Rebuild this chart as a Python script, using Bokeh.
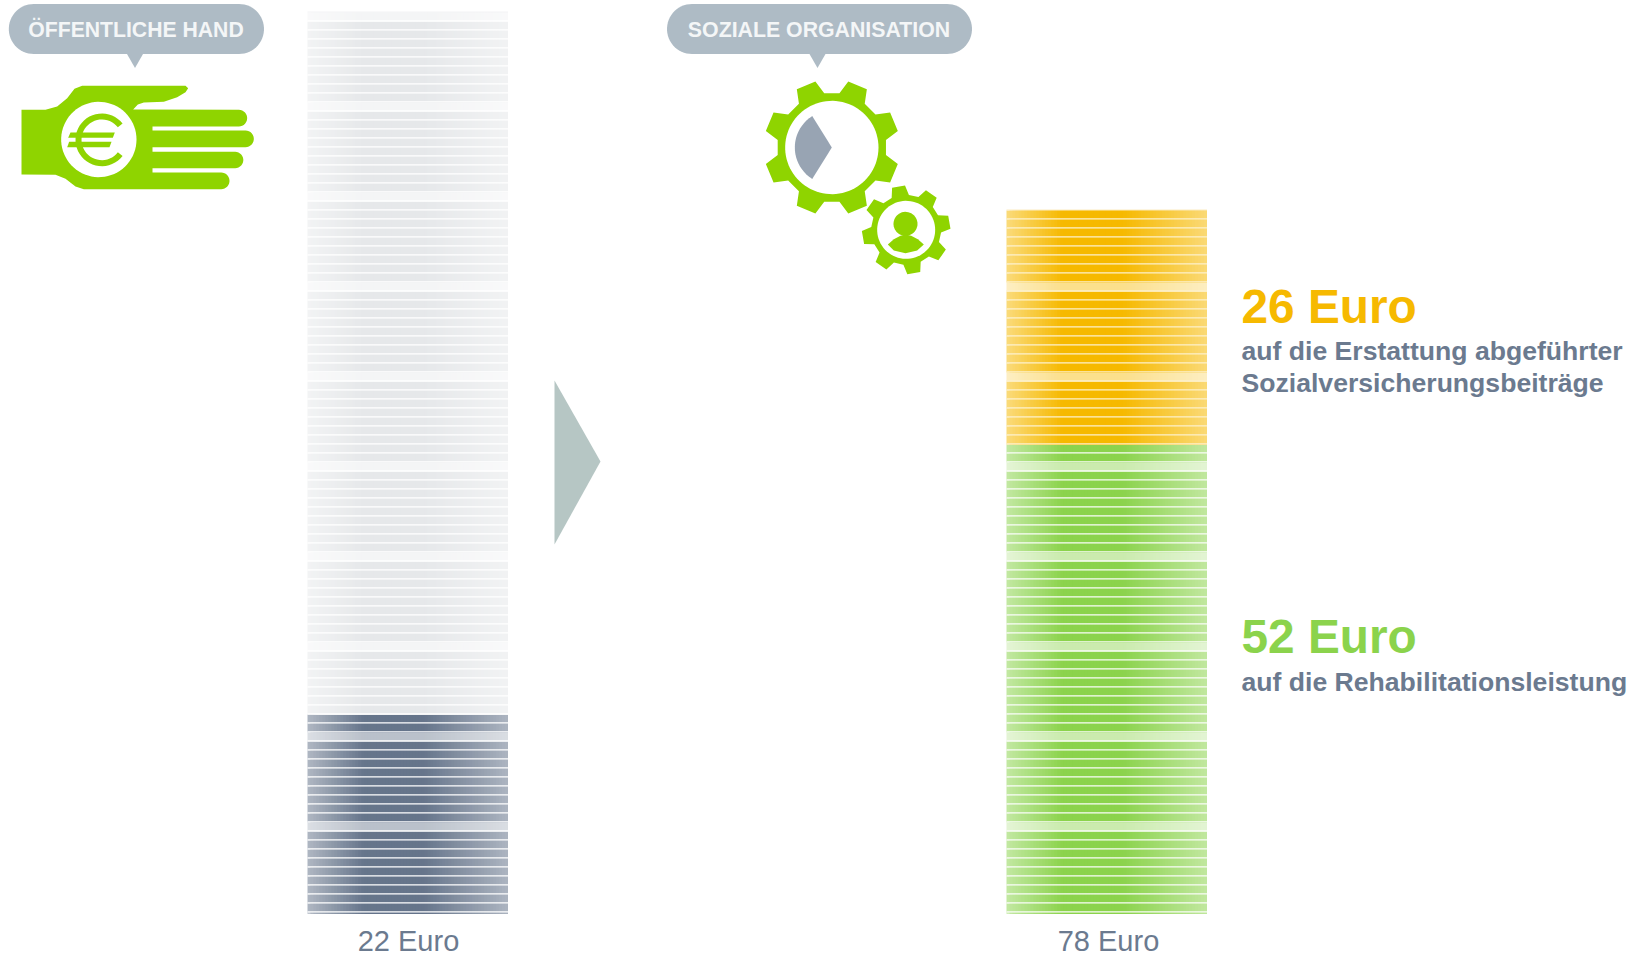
from bokeh.embed import file_html
from bokeh.resources import INLINE
from bokeh.plotting import figure
from bokeh.models import Range1d
from bokeh.core.properties import value
import numpy as np

# Distribution of 100 Euro: public share, organisation share and its two uses
public_euro = 22
organisation_euro = 78
contribution_euro = 26
rehabilitation_euro = 52
total_euro = public_euro + organisation_euro

GREY = "#66758b"
ORANGE = "#f6b900"
GREEN = "#8bd34c"
GHOST = "#e6e8ea"
LIME = "#8fd400"
BUBBLE = "#aebbc5"
TEXT = "#6b7a8f"

W, H = 1639, 953
BASE_PX = 912          # pixel row of the zero line
PITCH = 9              # pixels per Euro
BAR_W = 200.5
LEFT_X, RIGHT_X = 307, 1006
MIDDLE_SHIFT = 0.34    # from a text's baseline up to its vertical middle, per font size

p = figure(width=W, height=H, output_backend="svg", toolbar_location=None,
           x_range=Range1d(0, W),
           y_range=Range1d(-(H - BASE_PX) / PITCH, BASE_PX / PITCH),
           min_border=0, outline_line_color=None)
p.extra_y_ranges = {"px": Range1d(H, 0)}
p.axis.visible = False
p.grid.visible = False
p.background_fill_color = "white"
p.border_fill_color = "white"


def shade(u):
    """Opacity across a coin, strongest left of the middle."""
    return np.interp(u, [0, 0.28, 0.58, 1], [0.52, 1, 1, 0.54])


def hexrgb(c):
    return np.array([int(c[i:i + 2], 16) for i in (1, 3, 5)], float)


def tohex(v):
    return "#%02x%02x%02x" % tuple(int(round(q)) for q in v)


def stack(x0, start, count, color, gap_tint=0.0, foot=False):
    """One row per Euro: overlapping cells fade sideways, a thin strip parts the rows."""
    n = 67
    cw = BAR_W / n
    rgb = hexrgb(color)
    l, r, t, b, c = [], [], [], [], []
    rows = [(k, k + 1, 0.45 if (k % 10) == 9 else 1.0) for k in range(start, start + count)]
    if foot:
        rows.insert(0, (-1.3 / PITCH, 0, 1.0))
    for low, high, a in rows:
        for j in range(n):
            al = shade((j + 0.5) / n) * a
            l.append(x0 + j * cw); r.append(x0 + BAR_W)
            b.append(low); t.append(high)
            c.append(tohex(rgb + (255 - rgb) * (1 - al)))
    p.quad(left=l, right=r, bottom=b, top=t, fill_color=c, line_color=None)
    gap = 1.3 / PITCH
    xs = [[x0, x0 + BAR_W, x0 + BAR_W, x0] for _ in range(count)]
    ys = [[k, k, k + gap, k + gap] for k in range(start, start + count)]
    p.patches(xs, ys, fill_color=tohex(255 - (255 - rgb) * gap_tint), line_color=None)


stack(LEFT_X, 0, public_euro, GREY, foot=True)
stack(LEFT_X, public_euro, total_euro - public_euro, GHOST)
stack(RIGHT_X, 0, rehabilitation_euro, GREEN, 0.04, foot=True)
stack(RIGHT_X, rehabilitation_euro, contribution_euro, ORANGE, 0.2)

# Faint cap line on top of each column
p.quad(left=[LEFT_X, RIGHT_X], right=[LEFT_X + BAR_W, RIGHT_X + BAR_W],
       bottom=[total_euro, organisation_euro],
       top=[total_euro + 1 / PITCH, organisation_euro + 1 / PITCH],
       fill_color=["#f3f4f5", "#fcebc2"], line_color=None)


def patch(xs, ys, color):
    p.patch(list(xs), list(ys), fill_color=color, line_color=None, y_range_name="px")


def pill(x0, x1, y0, y1, tail_x, color):
    r = (y1 - y0) / 2
    a = np.linspace(np.pi / 2, 3 * np.pi / 2, 30)
    xs = np.r_[x0 + r + r * np.cos(a), x1 - r - r * np.cos(a)]
    ys = np.r_[(y0 + y1) / 2 - r * np.sin(a), (y0 + y1) / 2 + r * np.sin(a)]
    patch(xs, ys, color)
    patch([tail_x - 8, tail_x + 8, tail_x], [y1, y1, y1 + 14], color)


pill(8.3, 263.5, 3.5, 53.5, 134.5, BUBBLE)
pill(666.5, 971.5, 3.5, 53.5, 817, BUBBLE)


def label(x, y, s, size, color, bold=True, align="left"):
    p.text([x], [y - MIDDLE_SHIFT * size], text=[s], text_font=value("Liberation Sans"),
           text_font_size=f"{size}px", text_color=color,
           text_font_style="bold" if bold else "normal",
           text_align=align, text_baseline="middle", y_range_name="px")


label(135.5, 36.5, "ÖFFENTLICHE HAND", 21.2, "#f4f6f7", align="center")
label(818.5, 36.5, "SOZIALE ORGANISATION", 21.3, "#f4f6f7", align="center")

# Arrow between the columns
patch([554, 600, 554], [380, 461, 544], "#b6c6c4")


def arc(cx, cy, r, a0, a1, n=40):
    a = np.radians(np.linspace(a0, a1, n))
    return cx + r * np.cos(a), cy - r * np.sin(a)


# Hand icon, outline in tripled units for finer placement
hand_pts = [(63, 328), (135, 328), (170, 318), (200, 293), (222, 265), (245, 256),
            (555, 256), (563, 263), (555, 275), (530, 290), (490, 304), (430, 306),
            (412, 312), (398, 327), (715, 328)]
hand = list(hand_pts)
for cx, cy, r, tail in [(715, 353, 25, [(456, 378), (456, 390)]),
                        (735, 415, 25, [(456, 440), (456, 454)]),
                        (704, 478.5, 24.5, [(456, 503), (456, 516)]),
                        (662, 541, 25, [])]:
    ax, ay = arc(cx, cy, r, 90, -90, 16)
    hand += list(zip(ax, ay)) + tail
hand += [(250, 566), (225, 558), (195, 535), (165, 523), (63, 522)]
hx, hy = zip(*hand)
patch(np.array(hx) / 3, np.array(hy) / 3, LIME)

cx, cy = arc(295 / 3, 417 / 3, 113 / 3, 0, 360, 72)
patch(cx, cy, "white")
ox, oy = arc(304 / 3, 418 / 3, 79 / 3, 38, 322)
ix, iy = arc(304 / 3, 418 / 3, 61 / 3, 322, 38)
patch(np.r_[ox, ix], np.r_[oy, iy], LIME)
patch(np.array([210, 343, 337, 203]) / 3, np.array([396, 396, 412, 412]) / 3, LIME)
patch(np.array([206, 333, 327, 200]) / 3, np.array([424, 424, 440, 440]) / 3, LIME)


def gear(cx, cy, r_base, r_tip, first, base_half, tip_half):
    xs, ys = [], []
    for k in range(8):
        c = first + 45 * k
        for ang, rr in [(c - base_half, r_base), (c - tip_half, r_tip),
                        (c + tip_half, r_tip), (c + base_half, r_base)]:
            xs.append(cx + rr * np.cos(np.radians(ang)))
            ys.append(cy - rr * np.sin(np.radians(ang)))
    patch(xs, ys, LIME)


Z0 = 660
g1x, g1y = Z0 + 514 / 3, 441 / 3
gear(g1x, g1y, 164 / 3, 204 / 3, 22.5, 14.5, 8.5)
wx, wy = arc(g1x, g1y, 140 / 3, 0, 360, 90)
patch(wx, wy, "white")
sx, sy = arc(g1x, g1y, 111 / 3, 122, 238, 40)
patch(np.r_[g1x, sx], np.r_[g1y, sy], "#98a4b3")

g2x, g2y = Z0 + 737 / 3, 688 / 3
gear(g2x, g2y, 105 / 3, 133 / 3, 10, 14.5, 8.5)
wx, wy = arc(g2x, g2y, 87 / 3, 0, 360, 72)
patch(wx, wy, "white")
hx2, hy2 = arc(Z0 + 735 / 3, 670 / 3, 36 / 3, 0, 360, 48)
patch(hx2, hy2, LIME)
bx = Z0 + np.array([682, 700, 720, 735, 752, 772, 790, 770, 735, 700]) / 3
by = np.array([732, 716, 706, 702, 706, 716, 732, 750, 758, 750]) / 3
patch(bx, by, LIME)

label(1241, 322.2, f"{contribution_euro} Euro", 47.8, ORANGE)
label(1241, 360, "auf die Erstattung abgeführter", 26.6, TEXT)
label(1241, 391.2, "Sozialversicherungsbeiträge", 26.6, TEXT)
label(1241, 652.7, f"{rehabilitation_euro} Euro", 47.8, GREEN)
label(1241, 690.8, "auf die Rehabilitationsleistung", 26.6, TEXT)
label(408, 950, f"{public_euro} Euro", 29, TEXT, bold=False, align="center")
label(1108, 950, f"{organisation_euro} Euro", 29, TEXT, bold=False, align="center")

open("out.html", "w").write(file_html(p, INLINE))
